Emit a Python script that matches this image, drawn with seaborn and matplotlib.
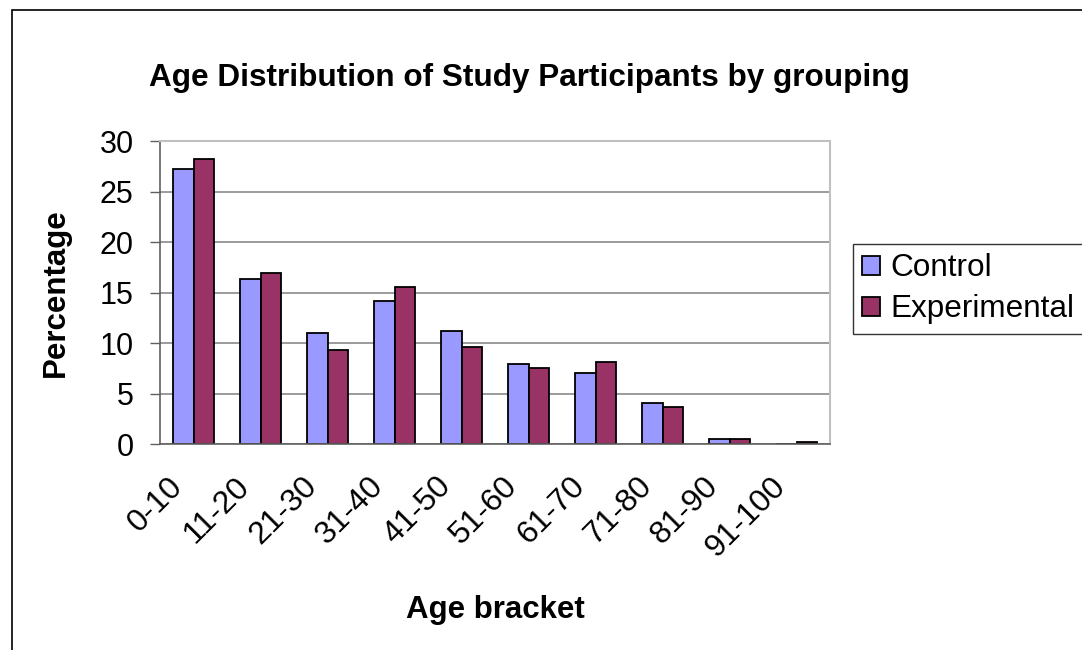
import pandas as pd
import matplotlib.pyplot as plt
import matplotlib.patches as mpatches
from matplotlib.transforms import ScaledTranslation
import seaborn as sns

brackets = ["0-10", "11-20", "21-30", "31-40", "41-50", "51-60",
            "61-70", "71-80", "81-90", "91-100"]
control = [27.2, 16.4, 11.0, 14.2, 11.2, 7.9, 7.1, 4.1, 0.5, 0.0]
experimental = [28.2, 16.9, 9.3, 15.6, 9.6, 7.5, 8.1, 3.7, 0.5, 0.2]
groups = ["Control", "Experimental"]
colors = ["#9999FF", "#993366"]

df = pd.DataFrame({
    "Age bracket": brackets * 2,
    "Percentage": control + experimental,
    "Group": ["Control"] * len(brackets) + ["Experimental"] * len(brackets),
})

sns.set_style("white")
plt.rcParams['font.family'] = ['Liberation Sans', 'DejaVu Sans']
plt.rcParams['text.color'] = 'black'
plt.rcParams['axes.labelcolor'] = 'black'
plt.rcParams['xtick.color'] = 'black'
plt.rcParams['ytick.color'] = 'black'

fig = plt.figure(figsize=(10.82, 6.5), dpi=100)
ax = fig.add_axes([0.1479, 0.3165, 0.6192, 0.4665])

sns.barplot(data=df, x="Age bracket", y="Percentage", hue="Group",
            hue_order=groups, palette=colors, width=0.6, ax=ax,
            edgecolor="black", linewidth=1.3, saturation=1, legend=True)

ax.set_ylim(0, 30)
ax.set_xlim(-0.5, len(brackets) - 0.5)
ax.set_yticks(range(0, 31, 5))
ax.yaxis.grid(True, color="#808080", linewidth=1.1)
ax.set_axisbelow(True)

ax.set_xticks(range(len(brackets)))
ax.set_xticklabels(brackets, rotation=45, ha="right", rotation_mode="anchor")
ax.set_xticks([i - 0.5 for i in range(len(brackets) + 1)], minor=True)
ax.tick_params(axis="x", which="major", length=0, labelsize=23, pad=19.5)
ax.tick_params(axis="x", which="minor", length=7, width=1.0, color="#606060", direction="out")
ax.tick_params(axis="y", length=7, width=1.0, color="#606060", direction="out",
               labelsize=22, left=True, pad=12)
shift = ScaledTranslation(-0.26, 0, fig.dpi_scale_trans)
for lab in ax.get_xticklabels():
    lab.set_transform(lab.get_transform() + shift)

for side in ["left", "bottom"]:
    ax.spines[side].set_color("#606060")
    ax.spines[side].set_linewidth(1.2)
for side in ["top", "right"]:
    ax.spines[side].set_color("#c0c0c0")
    ax.spines[side].set_linewidth(1.5)

ax.set_xlabel("Age bracket", fontsize=22.5, fontweight="bold")
ax.xaxis.set_label_coords(0.5, -0.498)
ax.set_ylabel("Percentage", fontsize=22.5, fontweight="bold")
ax.yaxis.set_label_coords(-0.1335, 0.5)

fig.text(529 / 1082, 1 - 86 / 650, "Age Distribution of Study Participants by grouping",
         fontsize=22.7, fontweight="bold", ha="center", va="baseline")

leg = ax.legend(loc="upper left", bbox_to_anchor=(853 / 1082, 1 - 244 / 650),
                bbox_transform=fig.transFigure, fontsize=22.7,
                frameon=True, fancybox=False, edgecolor="black",
                handlelength=0.57, handleheight=0.57, handletextpad=0.32,
                borderpad=0.3, labelspacing=0.35, borderaxespad=0)
leg.get_frame().set_linewidth(1.0)

# outer chart border, clipped by the image edges on the right and bottom
fig.patches.append(mpatches.Rectangle((12 / 1082, -0.1), 1.2, 0.1 + 1 - 10 / 650,
                                      transform=fig.transFigure, fill=False,
                                      edgecolor="black", linewidth=1.2))

plt.savefig("out.png", dpi=100)
